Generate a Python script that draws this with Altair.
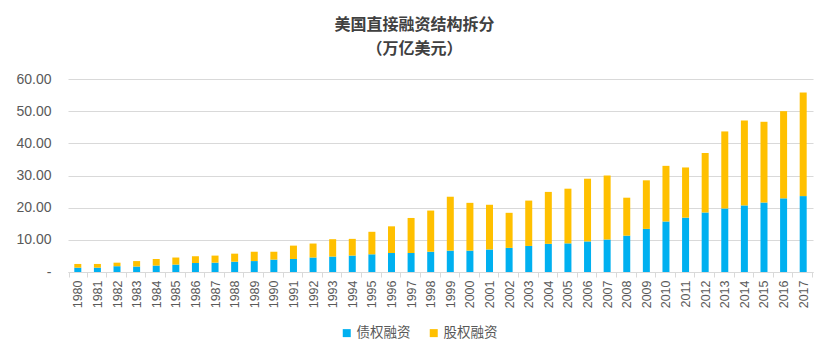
import altair as alt
import pandas as pd

years = [str(y) for y in range(1980, 2018)]
debt = [1.35, 1.35, 1.8, 1.7, 2.0, 2.3, 2.8, 2.9, 3.2, 3.4, 3.85, 4.05, 4.5, 4.8, 5.1, 5.5, 5.9, 5.9, 6.3, 6.65,
        6.65, 7.0, 7.5, 8.1, 8.75, 8.9, 9.5, 10.1, 11.3, 13.4, 15.7, 16.9, 18.5, 19.75, 20.7, 21.6, 22.9, 23.6]
equity = [1.15, 1.15, 1.1, 1.7, 2.05, 2.2, 2.1, 2.2, 2.5, 2.9, 2.45, 4.15, 4.35, 5.4, 5.2, 7.0, 8.3, 10.9, 12.8, 16.75,
          14.85, 13.9, 10.9, 14.1, 16.15, 17.0, 19.5, 19.9, 11.8, 15.1, 17.3, 15.6, 18.5, 23.95, 26.4, 25.1, 27.1, 32.2]
series = ["债权融资", "股权融资"]
colors = ["#00B0F0", "#FFC000"]

rows = []
for y, d, e in zip(years, debt, equity):
    rows.append({"year": y, "series": series[0], "value": d, "ord": 0})
    rows.append({"year": y, "series": series[1], "value": e, "ord": 1})
df = pd.DataFrame(rows)

GRAY = "#595959"
GRID = "#d9d9d9"

chart = alt.Chart(df).mark_bar(size=7).encode(
    x=alt.X("year:N", sort=years, title=None,
            axis=alt.Axis(labelAngle=-90, labelFont="Liberation Sans", labelFontSize=12.5,
                          labelColor=GRAY, domainColor=GRID, tickColor=GRID, tickBand="extent",
                          tickSize=5, labelPadding=3, labelBaseline="middle", labelAlign="right")),
    y=alt.Y("value:Q", stack="zero", title=None,
            scale=alt.Scale(domain=[0, 60], nice=False),
            axis=alt.Axis(values=[0, 10, 20, 30, 40, 50, 60],
                          labelExpr="datum.value == 0 ? '-' : format(datum.value, '.2f')",
                          labelFont="Liberation Sans", labelFontSize=14, labelColor=GRAY,
                          domain=False, ticks=False, gridColor=GRID, gridWidth=1.2,
                          labelPadding=17)),
    color=alt.Color("series:N", scale=alt.Scale(domain=series, range=colors),
                    legend=alt.Legend(title=None, orient="none", direction="horizontal",
                                      legendX=272, legendY=247, symbolType="square",
                                      symbolSize=64, symbolStrokeWidth=0,
                                      labelFont="Noto Sans CJK SC", labelFontSize=13.5,
                                      labelColor=GRAY, columnPadding=16, labelOffset=3)),
    order=alt.Order("ord:Q", sort="ascending"),
).properties(
    width=745, height=193,
    autosize="none",
    padding={"left": 68, "top": 79, "right": 19, "bottom": 84},
    title=alt.TitleParams(text=["美国直接融资结构拆分", "（万亿美元）"], font="Noto Sans CJK SC",
                          fontSize=16, fontWeight="bold", color="#404040", lineHeight=24,
                          anchor="middle", frame="bounds", offset=15),
).configure_view(stroke=None)

chart.save("out.html", embed_options={"renderer": "svg", "actions": False})
